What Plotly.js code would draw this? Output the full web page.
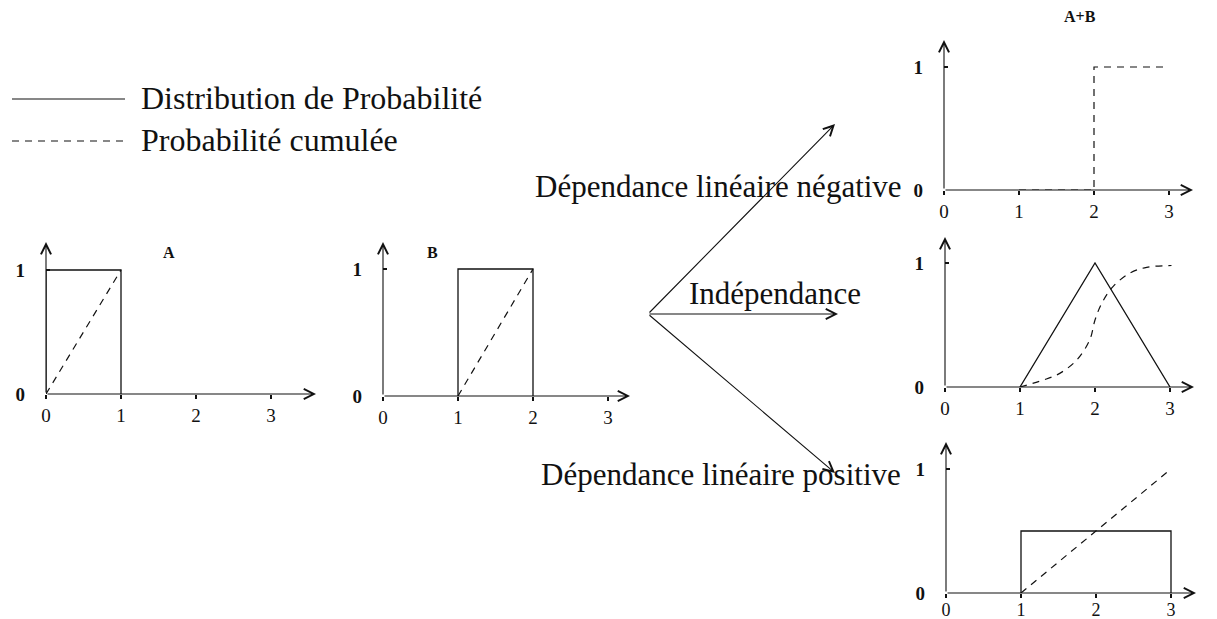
<!DOCTYPE html>
<html>
<head>
<meta charset="utf-8">
<script src="https://cdn.plot.ly/plotly-3.0.1.min.js"></script>
<style>
  body { margin: 0; background: #fff; }
  #plot { width: 1217px; height: 619px; }
</style>
</head>
<body>
<div id="plot"></div>
<script>
// A : uniforme sur [0,1]
const aDistX = [0, 0, 1, 1];
const aDistY = [0, 1, 1, 0];
const aCumX = [0, 1];
const aCumY = [0, 1];

// B : uniforme sur [1,2]
const bDistX = [1, 1, 2, 2];
const bDistY = [0, 1, 1, 0];
const bCumX = [1, 2];
const bCumY = [0, 1];

// A+B, dependance lineaire negative (seulement la cumulee)
const negDistX = [];
const negDistY = [];
const negCumX = [1, 2, 2, 3];
const negCumY = [0, 0, 1, 1];

// A+B, independance
const indDistX = [1, 2, 3];
const indDistY = [0, 1, 0];
const indCumX = [1.0, 1.31, 1.53, 1.76, 1.93, 2.0, 2.09, 2.24, 2.47, 2.69, 3.02];
const indCumY = [0.0, 0.056, 0.11, 0.22, 0.38, 0.54, 0.675, 0.81, 0.92, 0.965, 0.98];

// A+B, dependance lineaire positive
const posDistX = [1, 1, 3, 3];
const posDistY = [0, 0.5, 0.5, 0];
const posCumX = [1, 3];
const posCumY = [0, 1];

// ticks
const xTickVals = [0, 1, 2, 3];
const xTickText = ['0', '1', '2', '3'];
const yTickVals = [0, 1];
const yTickText = ['0', '1'];

const legendLabels = ['Distribution de Probabilité', 'Probabilité cumulée'];
const branchLabels = ['Dépendance linéaire négative', 'Indépendance', 'Dépendance linéaire positive'];
const panelTitles = ['A', 'B', 'A+B'];

const W = 1217, H = 619;
const ink = '#111';
const dashStyle = '7px,6px';
const serif = 'Liberation Serif, Times New Roman, serif';

function px(x) { return x / W; }
function py(y) { return 1 - y / H; }

// placement of each small chart, in page pixels
const panels = [
  {x0: 46,  xEnd: 316,  xUnit: 75, y0: 394, yTop: 242, yUnit: 124, distX: aDistX, distY: aDistY, cumX: aCumX, cumY: aCumY},
  {x0: 383, xEnd: 630,  xUnit: 75, y0: 396, yTop: 242, yUnit: 127, distX: bDistX, distY: bDistY, cumX: bCumX, cumY: bCumY},
  {x0: 944, xEnd: 1193, xUnit: 75, y0: 190, yTop: 40,  yUnit: 123, distX: negDistX, distY: negDistY, cumX: negCumX, cumY: negCumY},
  {x0: 945, xEnd: 1194, xUnit: 75, y0: 387, yTop: 237, yUnit: 124, distX: indDistX, distY: indDistY, cumX: indCumX, cumY: indCumY, smooth: true},
  {x0: 946, xEnd: 1196, xUnit: 75, y0: 593, yTop: 442, yUnit: 124, distX: posDistX, distY: posDistY, cumX: posCumX, cumY: posCumY, labelUp: true}
];

const data = [];
const annotations = [];
const shapes = [];
const layout = {
  width: W,
  height: H,
  margin: {l: 0, r: 0, t: 0, b: 0},
  paper_bgcolor: '#fff',
  plot_bgcolor: 'rgba(0,0,0,0)',
  showlegend: false,
  font: {family: serif, color: ink}
};

panels.forEach((p, i) => {
  const s = i === 0 ? '' : String(i + 1);
  const xa = 'x' + s, ya = 'y' + s;
  const xMax = (p.xEnd - p.x0) / p.xUnit;
  const yMax = (p.y0 - p.yTop) / p.yUnit;

  if (p.distX.length) {
    data.push({
      x: p.distX, y: p.distY, xaxis: xa, yaxis: ya,
      mode: 'lines', line: {color: ink, width: 1.3},
      cliponaxis: false, hoverinfo: 'skip'
    });
  }
  data.push({
    x: p.cumX, y: p.cumY, xaxis: xa, yaxis: ya,
    mode: 'lines',
    line: {color: ink, width: 1.2, dash: dashStyle, shape: p.smooth ? 'spline' : 'linear'},
    cliponaxis: false, hoverinfo: 'skip'
  });

  layout['xaxis' + s] = {
    domain: [px(p.x0), px(p.xEnd)], range: [0, xMax], anchor: ya,
    showgrid: false, zeroline: false, showline: false,
    ticks: 'outside', ticklen: 4, tickwidth: 1.2, tickcolor: ink,
    tickvals: xTickVals, ticktext: xTickText, ticklabelstandoff: p.labelUp ? -4 : 0,
    tickfont: {family: serif, size: p.labelUp ? 18 : 19, color: ink}, fixedrange: true
  };
  layout['yaxis' + s] = {
    domain: [py(p.y0), py(p.yTop)], range: [0, yMax], anchor: xa,
    showgrid: false, zeroline: false, showline: false,
    ticks: 'inside', ticklen: 4, tickwidth: 1.2, tickcolor: ink,
    tickvals: yTickVals, ticktext: yTickText, ticklabelstandoff: 20,
    tickfont: {family: serif, size: 19, color: ink, weight: 'bold'}, fixedrange: true
  };

  // axes with arrow heads
  [[xMax, 0], [0, yMax]].forEach(([hx, hy]) => {
    annotations.push({
      xref: xa, yref: ya, axref: xa, ayref: ya,
      x: hx, y: hy, ax: 0, ay: 0, text: '',
      showarrow: true, arrowhead: 5, arrowsize: 1.8, arrowwidth: 1.1,
      arrowcolor: ink, standoff: 0
    });
  });
});

// titles of the small charts
[[169, 253], [432, 253], [1080, 17]].forEach(([x, y], i) => {
  annotations.push({
    xref: 'paper', yref: 'paper', x: px(x), y: py(y),
    xanchor: 'center', yanchor: 'middle', text: panelTitles[i],
    showarrow: false, font: {family: serif, size: 16, color: ink, weight: 'bold'}
  });
});

// the three branches
const origin = [648, 314];
const heads = [[835, 124], [838, 314], [835, 473]];
heads.forEach(([hx, hy]) => {
  annotations.push({
    xref: 'paper', yref: 'paper', axref: 'pixel', ayref: 'pixel',
    x: px(hx), y: py(hy), ax: origin[0] - hx, ay: origin[1] - hy, text: '',
    showarrow: true, arrowhead: 5, arrowsize: 1.8, arrowwidth: 1.1,
    arrowcolor: ink, standoff: 0
  });
});
[[718, 187], [775, 293], [721, 474]].forEach(([x, y], i) => {
  annotations.push({
    xref: 'paper', yref: 'paper', x: px(x), y: py(y),
    xanchor: 'center', yanchor: 'middle', text: branchLabels[i],
    showarrow: false, font: {family: serif, size: 31, color: ink}
  });
});

// legend
[[99, 'solid'], [141, dashStyle]].forEach(([y, dash], i) => {
  shapes.push({
    type: 'line', xref: 'paper', yref: 'paper',
    x0: px(12), x1: px(125), y0: py(y), y1: py(y),
    line: {color: ink, width: 1.2, dash: dash}
  });
  annotations.push({
    xref: 'paper', yref: 'paper', x: px(139), y: py(y - 1),
    xanchor: 'left', yanchor: 'middle',
    text: legendLabels[i], showarrow: false,
    font: {family: serif, size: 32, color: ink}
  });
});

layout.annotations = annotations;
layout.shapes = shapes;

Plotly.newPlot('plot', data, layout, {staticPlot: true, displayModeBar: false});
</script>
</body>
</html>
